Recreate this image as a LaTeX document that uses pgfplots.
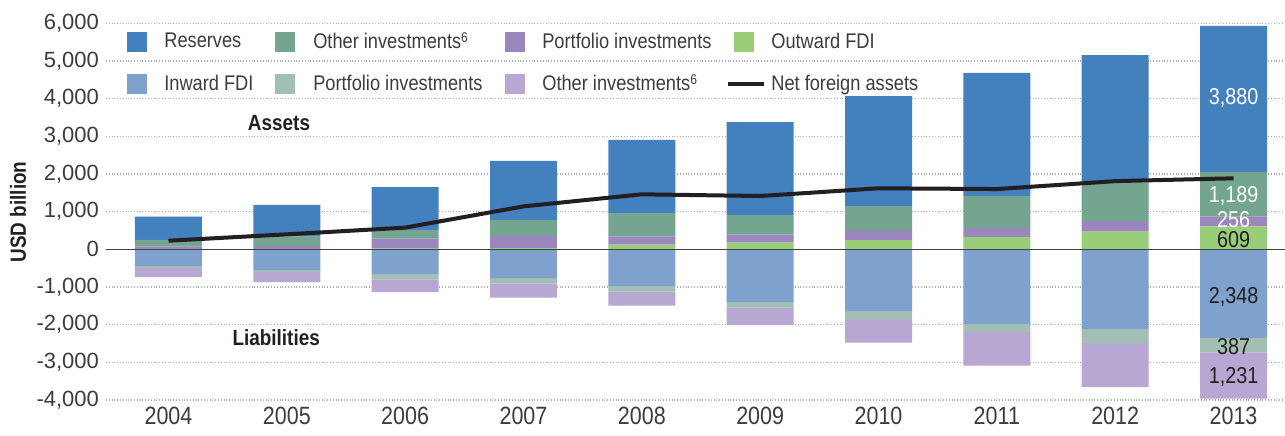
\documentclass[border=0pt]{standalone}
\usepackage{fontspec}
\setmainfont{Liberation Sans}[FakeStretch=0.86]
\newfontfamily\tickfont{Liberation Sans}
\usepackage{pgfplots}
\pgfplotsset{compat=1.18}

\definecolor{cRes}{RGB}{66,128,190}
\definecolor{cOthA}{RGB}{116,165,144}
\definecolor{cPortA}{RGB}{154,135,190}
\definecolor{cFDIA}{RGB}{154,205,122}
\definecolor{cFDIL}{RGB}{126,161,206}
\definecolor{cPortL}{RGB}{161,191,178}
\definecolor{cOthL}{RGB}{183,167,210}
\definecolor{txt}{RGB}{60,60,60}
\definecolor{dk}{RGB}{35,31,32}

% Assets (stacked upward): outward FDI, portfolio, other investments, reserves
\pgfplotstableread{
x fdi port oth res
0 15 55 178 619
1 15 73 248 842
2 20 261 231 1142
3 35 319 425 1566
4 122 223 619 1938
5 175 223 512 2469
6 247 265 637 2920
7 327 239 850 3266
8 467 284 1017 3390
9 609 256 1189 3880
}\assets
% Liabilities (stacked downward): inward FDI, portfolio, other investments
\pgfplotstableread{
x fdi port oth
0 -443 -53 -239
1 -550 -53 -266
2 -656 -141 -337
3 -762 -141 -382
4 -974 -151 -372
5 -1399 -151 -459
6 -1638 -212 -629
7 -1983 -212 -895
8 -2116 -372 -1168
9 -2348 -387 -1231
}\liabs
\pgfplotstableread{
x net
0 228
1 398
2 576
3 1140
4 1460
5 1415
6 1620
7 1600
8 1810
9 1885
}\netfa

\newcommand{\supsix}{\raisebox{0.55ex}{\fontsize{7}{8}\selectfont 6}}

\pgfplotsset{common/.style={
  at={(0,0)}, anchor=south west, scale only axis,
  width=589.5pt, height=188.35pt,
  xmin=-0.528, xmax=9.435, ymin=-4000, ymax=6000,
  axis line style={draw=none}, tick style={draw=none},
}}

\begin{document}
\begin{tikzpicture}
\useasboundingbox (-53pt,-17.5pt) rectangle (589.5pt,200pt);

% assets
\begin{axis}[common, ybar stacked, bar width=0.566,
  ytick={-4000,-3000,...,6000},
  xtick={0,...,9},
  xticklabels={2004,2005,2006,2007,2008,2009,2010,2011,2012,2013},
  ymajorgrids, grid style={densely dotted, line width=0.55pt, black!32},
  scaled y ticks=false,
  /pgf/number format/1000 sep={,},
  /pgf/number format/assume math mode=true,
  yticklabel style={font=\tickfont\fontsize{11}{12}\selectfont, text=txt},
  xticklabel style={font=\fontsize{12.5}{14}\selectfont, text=txt},
]
\addplot[fill=cFDIA, draw=none] table[x=x, y=fdi] {\assets};
\addplot[fill=cPortA, draw=none] table[x=x, y=port] {\assets};
\addplot[fill=cOthA, draw=none] table[x=x, y=oth] {\assets};
\addplot[fill=cRes, draw=none] table[x=x, y=res] {\assets};
\end{axis}

% liabilities
\begin{axis}[common, ybar stacked, bar width=0.566, xtick=\empty, ytick=\empty]
\addplot[fill=cFDIL, draw=none] table[x=x, y=fdi] {\liabs};
\addplot[fill=cPortL, draw=none] table[x=x, y=port] {\liabs};
\addplot[fill=cOthL, draw=none] table[x=x, y=oth] {\liabs};
\end{axis}

% line, zero line, legend, labels
\begin{axis}[common, xtick=\empty, ytick=\empty,
  legend columns=4,
  legend cell align=left,
  legend style={draw=none, fill=none, at={(0.012,0.998)}, anchor=north west,
    font=\fontsize{10.6}{13}\selectfont, text=txt, row sep=7.5pt,
    /tikz/every odd column/.append style={column sep=7pt},
    /tikz/every even column/.append style={column sep=9pt}},
]
\draw[black!75, line width=0.7pt] (rel axis cs:0,0.4) -- (rel axis cs:1,0.4);
\addlegendimage{legend image code/.code={\fill[cRes] (0pt,-4.75pt) rectangle (9.5pt,4.75pt);}}
\addlegendentry{Reserves}
\addlegendimage{legend image code/.code={\fill[cOthA] (0pt,-4.75pt) rectangle (9.5pt,4.75pt);}}
\addlegendentry{Other investments\supsix}
\addlegendimage{legend image code/.code={\fill[cPortA] (0pt,-4.75pt) rectangle (9.5pt,4.75pt);}}
\addlegendentry{Portfolio investments}
\addlegendimage{legend image code/.code={\fill[cFDIA] (0pt,-4.75pt) rectangle (9.5pt,4.75pt);}}
\addlegendentry{Outward FDI}
\addlegendimage{legend image code/.code={\fill[cFDIL] (0pt,-4.75pt) rectangle (9.5pt,4.75pt);}}
\addlegendentry{Inward FDI}
\addlegendimage{legend image code/.code={\fill[cPortL] (0pt,-4.75pt) rectangle (9.5pt,4.75pt);}}
\addlegendentry{Portfolio investments}
\addlegendimage{legend image code/.code={\fill[cOthL] (0pt,-4.75pt) rectangle (9.5pt,4.75pt);}}
\addlegendentry{Other investments\supsix}
\addplot[dk, line width=2pt, line join=round,
  legend image code/.code={\path[draw=none, fill=none] (0pt,-4.75pt) rectangle (9.5pt,4.75pt);
    \draw[overlay, dk, line width=2pt] (-3pt,0pt) -- (15pt,0pt);}]
  table[x=x, y=net] {\netfa};
\addlegendentry{Net foreign assets}

\node[font=\bfseries\fontsize{11}{13}\selectfont, text=dk] at (axis cs:0.934,3353) {Assets};
\node[font=\bfseries\fontsize{11}{13}\selectfont, text=dk] at (axis cs:0.91,-2355) {Liabilities};

\begin{scope}[every node/.style={inner sep=0pt, font=\fontsize{11.5}{13}\selectfont}]
\node[text=white] at (axis cs:9,4017) {3,880};
\node[text=white] at (axis cs:9,1415) {1,189};
\node[text=white] at (axis cs:9,790) {256};
\node[text=dk] at (axis cs:9,250) {609};
\node[text=dk] at (axis cs:9,-1258) {2,348};
\node[text=dk] at (axis cs:9,-2580) {387};
\node[text=dk] at (axis cs:9,-3377) {1,231};
\end{scope}
\end{axis}

\node[rotate=90, font=\bfseries\fontsize{11}{13}\selectfont, text=dk] at (-44pt,94pt) {USD billion};
\end{tikzpicture}
\end{document}
